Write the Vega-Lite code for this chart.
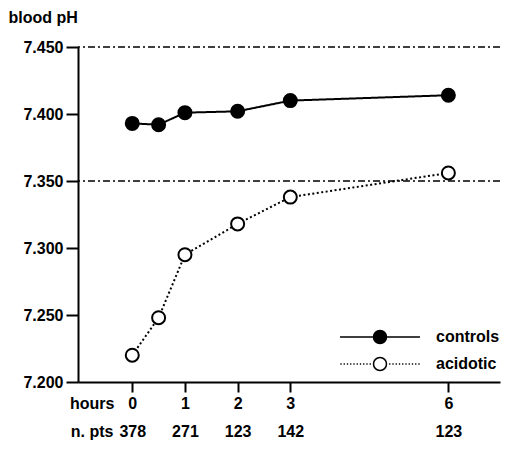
{
  "$schema": "https://vega.github.io/schema/vega-lite/v6.json",
  "width": 422,
  "height": 335,
  "autosize": {"type": "none"},
  "padding": {"left": 78, "top": 47, "right": 10, "bottom": 68},
  "background": "white",
  "config": {
    "view": {"stroke": null},
    "font": "Liberation Sans",
    "axis": {"domainColor": "black", "tickColor": "black", "labelColor": "black", "titleColor": "black", "grid": false}
  },
  "datasets": {
    "ph": [
      {"hours": 0, "ph": 7.393, "series": "controls"},
      {"hours": 0.5, "ph": 7.392, "series": "controls"},
      {"hours": 1, "ph": 7.401, "series": "controls"},
      {"hours": 2, "ph": 7.402, "series": "controls"},
      {"hours": 3, "ph": 7.41, "series": "controls"},
      {"hours": 6, "ph": 7.414, "series": "controls"},
      {"hours": 0, "ph": 7.22, "series": "acidotic"},
      {"hours": 0.5, "ph": 7.248, "series": "acidotic"},
      {"hours": 1, "ph": 7.295, "series": "acidotic"},
      {"hours": 2, "ph": 7.318, "series": "acidotic"},
      {"hours": 3, "ph": 7.338, "series": "acidotic"},
      {"hours": 6, "ph": 7.356, "series": "acidotic"}
    ],
    "refs": [{"ph": 7.45}, {"ph": 7.35}]
  },
  "resolve": {"axis": {"x": "independent"}},
  "layer": [
    {
      "data": {"name": "refs"},
      "mark": {"type": "rule", "color": "black", "strokeWidth": 1.5, "strokeDash": [7, 3, 2, 3]},
      "encoding": {
        "y": {
          "field": "ph", "type": "quantitative",
          "scale": {"domain": [7.2, 7.45], "nice": false, "zero": false},
          "axis": {
            "values": [7.2, 7.25, 7.3, 7.35, 7.4, 7.45],
            "format": ".3f",
            "labelFontSize": 16, "labelFontWeight": "bold",
            "tickSize": 12, "tickWidth": 2, "domainWidth": 2, "labelPadding": 3,
            "title": "blood pH", "titleAngle": 0, "titleX": -70, "titleY": -30,
            "titleAlign": "left", "titleBaseline": "middle",
            "titleFontSize": 16, "titleFontWeight": "bold"
          }
        }
      }
    },
    {
      "data": {"name": "ph"},
      "mark": {"type": "line", "color": "black", "strokeWidth": 2},
      "encoding": {
        "x": {
          "field": "hours", "type": "quantitative",
          "scale": {"domain": [-1.03, 6.98], "nice": false, "zero": false},
          "axis": {
            "orient": "bottom",
            "values": [0, 1, 2, 3, 6],
            "labelFontSize": 16, "labelFontWeight": "bold",
            "tickSize": 10, "tickWidth": 2, "domainWidth": 2,
            "labelPadding": 11, "labelBaseline": "middle",
            "title": "hours", "titleX": 36, "titleY": 21,
            "titleAlign": "right", "titleBaseline": "middle",
            "titleFontSize": 16, "titleFontWeight": "bold"
          }
        },
        "y": {"field": "ph", "type": "quantitative"},
        "strokeDash": {
          "field": "series", "type": "nominal",
          "scale": {"domain": ["acidotic", "controls"], "range": [[2, 2.5], [1, 0]]},
          "legend": null
        }
      }
    },
    {
      "data": {"name": "ph"},
      "mark": {"type": "point", "shape": "circle", "filled": true, "size": 169, "stroke": "black", "strokeWidth": 2, "opacity": 1},
      "encoding": {
        "x": {
          "field": "hours", "type": "quantitative",
          "axis": {
            "orient": "bottom",
            "values": [0, 1, 2, 3, 6],
            "domain": false, "ticks": false,
            "labelExpr": "{'0': '378', '1': '271', '2': '123', '3': '142', '6': '123'}[datum.label]",
            "labelFontSize": 16, "labelFontWeight": "bold",
            "labelPadding": 49, "labelBaseline": "middle",
            "title": "n. pts", "titleX": 35, "titleY": 49,
            "titleAlign": "right", "titleBaseline": "middle",
            "titleFontSize": 16, "titleFontWeight": "bold"
          }
        },
        "y": {"field": "ph", "type": "quantitative"},
        "fill": {
          "field": "series", "type": "nominal",
          "scale": {"domain": ["controls", "acidotic"], "range": ["black", "white"]},
          "legend": {
            "title": null, "orient": "none", "legendX": 294, "legendY": 282,
            "direction": "vertical", "padding": 0,
            "symbolSize": 169, "symbolStrokeColor": "black", "symbolStrokeWidth": 1.5,
            "symbolOpacity": 1,
            "labelFontSize": 16, "labelFontWeight": "bold", "labelColor": "black",
            "labelOffset": 48, "rowPadding": 7,
            "encode": {
              "symbols": {
                "update": {
                  "shape": {"signal": "datum.value === 'controls' ? 'M-6.15,0H-1M1,0H6.15M1,0A1,1,0,1,1,-1,0A1,1,0,1,1,1,0Z' : 'M-6.1,0h0.2M-5.6,0h0.2M-5.1,0h0.2M-4.6,0h0.2M-4.1,0h0.2M-3.6,0h0.2M-3.1,0h0.2M-2.6,0h0.2M-2.1,0h0.2M-1.6,0h0.2M1.4,0h0.2M1.9,0h0.2M2.4,0h0.2M2.9,0h0.2M3.4,0h0.2M3.9,0h0.2M4.4,0h0.2M4.9,0h0.2M5.4,0h0.2M5.9,0h0.2M1,0A1,1,0,1,1,-1,0A1,1,0,1,1,1,0Z'"}
                }
              }
            }
          }
        }
      }
    }
  ]
}
